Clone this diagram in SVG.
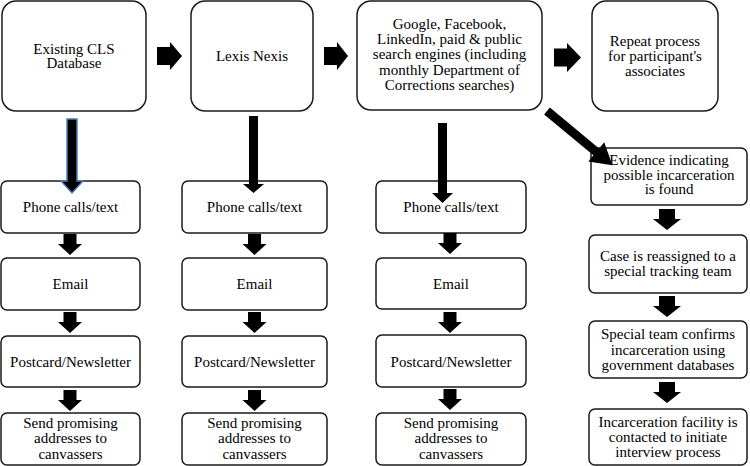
<svg xmlns="http://www.w3.org/2000/svg" width="750" height="466" viewBox="0 0 750 466">
<style>
.box{fill:#fff;stroke:#1a1a1a;stroke-width:1.5}
.t{font-family:"Liberation Serif","Times New Roman",serif;font-size:15px;fill:#000;text-anchor:middle}
.ar{fill:#000}
.arb{fill:#000;stroke:#4a7ebb;stroke-width:1.5}
</style>
<rect width="750" height="466" fill="#fff"/>
<g id="n-existing"><rect class="box" x="2" y="1" width="144" height="110" rx="14"/><text class="t" x="74" y="53.5">Existing CLS</text><text class="t" x="74" y="68">Database</text></g>
<g id="n-lexis"><rect class="box" x="191" y="1" width="122" height="110" rx="14"/><text class="t" x="252" y="61">Lexis Nexis</text></g>
<g id="n-google"><rect class="box" x="357" y="1" width="185" height="109" rx="14"/><text class="t" x="449.5" y="28.5">Google, Facebook,</text><text class="t" x="449.5" y="43.5">LinkedIn, paid &amp; public</text><text class="t" x="449.5" y="59">search engines (including</text><text class="t" x="449.5" y="74.5">monthly Department of</text><text class="t" x="449.5" y="89.5">Corrections searches)</text></g>
<g id="n-repeat"><rect class="box" x="592" y="1" width="126" height="110" rx="14"/><text class="t" x="655" y="45.5">Repeat process</text><text class="t" x="655" y="61">for participant's</text><text class="t" x="655" y="76">associates</text></g>
<g id="n-phone1"><rect class="box" x="1" y="181" width="139" height="52" rx="6"/><text class="t" x="70.5" y="212">Phone calls/text</text></g>
<g id="n-email1"><rect class="box" x="1" y="258" width="139" height="52" rx="6"/><text class="t" x="70.5" y="289">Email</text></g>
<g id="n-post1"><rect class="box" x="1" y="336" width="139" height="51" rx="6"/><text class="t" x="70.5" y="366.5">Postcard/Newsletter</text></g>
<g id="n-send1"><rect class="box" x="1" y="413" width="139" height="52" rx="6"/><text class="t" x="70.5" y="427.5">Send promising</text><text class="t" x="70.5" y="443">addresses to</text><text class="t" x="70.5" y="458.5">canvassers</text></g>
<g id="n-phone2"><rect class="box" x="182" y="181" width="145" height="52" rx="6"/><text class="t" x="254.5" y="212">Phone calls/text</text></g>
<g id="n-email2"><rect class="box" x="182" y="258" width="145" height="52" rx="6"/><text class="t" x="254.5" y="289">Email</text></g>
<g id="n-post2"><rect class="box" x="182" y="336" width="145" height="51" rx="6"/><text class="t" x="254.5" y="366.5">Postcard/Newsletter</text></g>
<g id="n-send2"><rect class="box" x="182" y="413" width="145" height="52" rx="6"/><text class="t" x="254.5" y="427.5">Send promising</text><text class="t" x="254.5" y="443">addresses to</text><text class="t" x="254.5" y="458.5">canvassers</text></g>
<g id="n-phone3"><rect class="box" x="376" y="181" width="150" height="52" rx="6"/><text class="t" x="451" y="212">Phone calls/text</text></g>
<g id="n-email3"><rect class="box" x="376" y="258" width="150" height="51" rx="6"/><text class="t" x="451" y="289">Email</text></g>
<g id="n-post3"><rect class="box" x="376" y="335" width="150" height="52" rx="6"/><text class="t" x="451" y="366.5">Postcard/Newsletter</text></g>
<g id="n-send3"><rect class="box" x="376" y="413" width="150" height="52" rx="6"/><text class="t" x="451" y="427.5">Send promising</text><text class="t" x="451" y="443">addresses to</text><text class="t" x="451" y="458.5">canvassers</text></g>
<g id="n-evidence"><rect class="box" x="591" y="148" width="156" height="57" rx="6"/><text class="t" x="669" y="165">Evidence indicating</text><text class="t" x="669" y="179.5">possible incarceration</text><text class="t" x="669" y="194">is found</text></g>
<g id="n-case"><rect class="box" x="589" y="235" width="158" height="58" rx="6"/><text class="t" x="668" y="261">Case is reassigned to a</text><text class="t" x="668" y="276">special tracking team</text></g>
<g id="n-special"><rect class="box" x="589" y="321" width="158" height="57" rx="6"/><text class="t" x="668" y="339">Special team confirms</text><text class="t" x="668" y="354.5">incarceration using</text><text class="t" x="668" y="370">government databases</text></g>
<g id="n-facility"><rect class="box" x="589" y="409" width="158" height="56" rx="6"/><text class="t" x="668" y="426.5">Incarceration facility is</text><text class="t" x="668" y="441.5">contacted to initiate</text><text class="t" x="668" y="456.5">interview process</text></g>
<g id="connectors">
<path class="ar" d="M157,47 H170 V42 L182,56 L170,70 V65 H157 Z"/>
<path class="ar" d="M324,47 H337 V42 L348,56 L337,70 V65 H324 Z"/>
<path class="ar" d="M554,48.5 H567 V43 L581,57.5 L567,72 V66.5 H554 Z"/>
<path class="arb" d="M67,119 H77 V181 H83 L72,193 L61,181 H67 Z"/>
<path class="ar" d="M249,116 H258 V184 H264 L253.5,193 L243,184 H249 Z"/>
<path class="ar" d="M438,123 H447 V193 H453 L442.5,203 L432,193 H438 Z"/>
<polygon class="ar" transform="translate(547,111) rotate(39.7)" points="0,-4.5 64,-4.5 64,-12.5 85,0 64,12.5 64,4.5 0,4.5"/>
<path class="ar" d="M63.5,234 H76.5 V244 H82 L70,255 L58,244 H63.5 Z"/>
<path class="ar" d="M63.5,312 H76.5 V322 H82 L70,333 L58,322 H63.5 Z"/>
<path class="ar" d="M63.5,390 H76.5 V400 H82 L70,411 L58,400 H63.5 Z"/>
<path class="ar" d="M248,234 H261 V244 H266.5 L254.5,255 L242.5,244 H248 Z"/>
<path class="ar" d="M248,312 H261 V322 H266.5 L254.5,333 L242.5,322 H248 Z"/>
<path class="ar" d="M248,390 H261 V400 H266.5 L254.5,411 L242.5,400 H248 Z"/>
<path class="ar" d="M443.5,233 H456.5 V243 H462 L450,254 L438,243 H443.5 Z"/>
<path class="ar" d="M443.5,312 H456.5 V322 H462 L450,333 L438,322 H443.5 Z"/>
<path class="ar" d="M443.5,389 H456.5 V399 H462 L450,410 L438,399 H443.5 Z"/>
<path class="ar" d="M659,209 H675 V219 H681 L667,230 L653,219 H659 Z"/>
<path class="ar" d="M659,296 H675 V306 H681 L667,317 L653,306 H659 Z"/>
<path class="ar" d="M659,382 H675 V392 H681 L667,403 L653,392 H659 Z"/>
</g>
</svg>
